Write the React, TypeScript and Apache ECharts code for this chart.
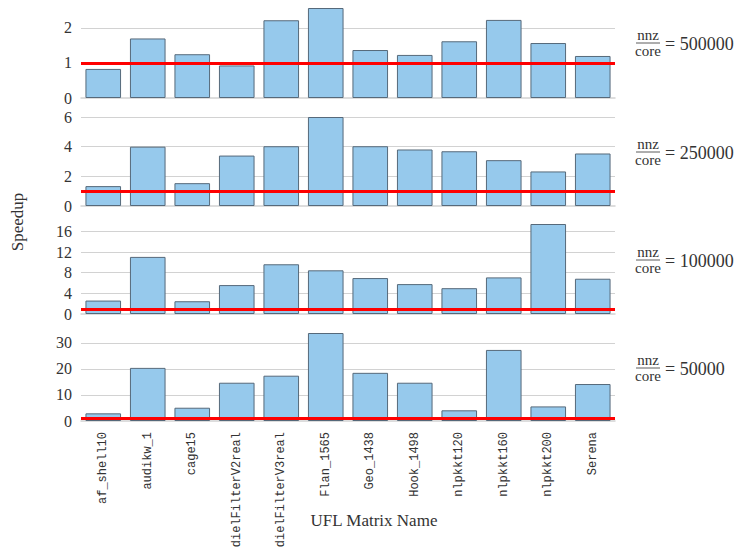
import React, { useEffect, useRef } from 'react';
import * as echarts from 'echarts';

const categories = [
  'af_shell10', 'audikw_1', 'cage15', 'dielFilterV2real', 'dielFilterV3real',
  'Flan_1565', 'Geo_1438', 'Hook_1498', 'nlpkkt120', 'nlpkkt160', 'nlpkkt200', 'Serena',
];

const speedup500000 = [0.83, 1.7, 1.25, 0.93, 2.22, 2.57, 1.37, 1.23, 1.62, 2.23, 1.57, 1.2];
const speedup250000 = [1.34, 4.0, 1.54, 3.4, 4.03, 6.0, 4.03, 3.81, 3.69, 3.09, 2.33, 3.54];
const speedup100000 = [2.6, 11.06, 2.47, 5.6, 9.63, 8.46, 6.96, 5.79, 5.0, 7.09, 17.43, 6.83];
const speedup50000 = [2.94, 20.4, 5.1, 14.7, 17.4, 33.8, 18.5, 14.7, 4.1, 27.3, 5.6, 14.2];

const panelSeries = [speedup500000, speedup250000, speedup100000, speedup50000];
const nnzPerCore = ['500000', '250000', '100000', '50000'];
const yIntervals = [1, 2, 4, 10];
const baselineSpeedup = 1;

const xAxisTitle = 'UFL Matrix Name';
const yAxisTitle = 'Speedup';

export default function App() {
  const ref = useRef<HTMLDivElement>(null);

  useEffect(() => {
    if (!ref.current) return;
    const chart = echarts.init(ref.current, null, { renderer: 'svg' });

    const tops = [8, 117, 224, 333];
    const heights = [90, 89, 90, 88];
    const labelCenters = [43, 152, 260, 368];
    const serif = '"Liberation Serif", "DejaVu Serif", serif';
    const mono = '"Liberation Mono", "DejaVu Sans Mono", monospace';
    const textColor = '#333';
    const gridColor = '#d2d2d2';

    const grid = tops.map((t, i) => ({ left: 81, right: 132, top: t, height: heights[i] }));

    const xAxis = panelSeries.map((_, i) => ({
      type: 'category',
      gridIndex: i,
      data: categories,
      axisLine: { show: true, lineStyle: { color: gridColor, width: 1.5 } },
      axisTick: { show: false },
      axisLabel: i === 3
        ? { show: true, rotate: 90, margin: 11, fontFamily: mono, fontSize: 12, color: textColor }
        : { show: false },
      splitLine: { show: false },
    }));

    const yAxis = panelSeries.map((vals, i) => {
      const maxV = Math.max(...vals);
      const onTick = Math.abs(maxV / yIntervals[i] - Math.round(maxV / yIntervals[i])) < 1e-9;
      return {
        type: 'value',
        gridIndex: i,
        min: 0,
        max: 'dataMax',
        interval: yIntervals[i],
        axisLine: { show: false },
        axisTick: { show: false },
        axisLabel: {
          show: true,
          margin: 9,
          fontFamily: serif,
          fontSize: 16,
          color: textColor,
          showMaxLabel: onTick,
        },
        splitLine: {
          show: true,
          showMinLine: false,
          showMaxLine: onTick,
          lineStyle: { color: gridColor, width: 1.2 },
        },
      };
    });

    const series = panelSeries.map((vals, i) => ({
      type: 'bar',
      xAxisIndex: i,
      yAxisIndex: i,
      data: vals,
      barCategoryGap: '20%',
      itemStyle: { color: '#96c9ec', borderColor: '#56697a', borderWidth: 1 },
      markLine: {
        silent: true,
        symbol: 'none',
        label: { show: false },
        lineStyle: { color: '#ff0000', width: 3, type: 'solid' },
        data: [{ yAxis: baselineSpeedup }],
      },
    }));

    const graphic: any[] = [
      {
        type: 'text',
        x: 374,
        y: 520,
        style: {
          text: xAxisTitle,
          fontFamily: serif,
          fontSize: 17,
          fill: textColor,
          align: 'center',
          verticalAlign: 'middle',
        },
      },
      {
        type: 'text',
        x: 17,
        y: 222,
        rotation: Math.PI / 2,
        style: {
          text: yAxisTitle,
          fontFamily: serif,
          fontSize: 17,
          fill: textColor,
          align: 'center',
          verticalAlign: 'middle',
        },
      },
    ];

    nnzPerCore.forEach((val, i) => {
      const c = labelCenters[i];
      graphic.push({
        type: 'group',
        children: [
          {
            type: 'text',
            x: 648,
            y: c - 0.5,
            style: { text: 'nnz', fontFamily: serif, fontSize: 15, fill: textColor, align: 'center', verticalAlign: 'bottom' },
          },
          {
            type: 'line',
            shape: { x1: 636, y1: c, x2: 660, y2: c },
            style: { stroke: textColor, lineWidth: 0.8 },
          },
          {
            type: 'text',
            x: 648,
            y: c + 0.5,
            style: { text: 'core', fontFamily: serif, fontSize: 15, fill: textColor, align: 'center', verticalAlign: 'top' },
          },
          {
            type: 'text',
            x: 665,
            y: c + 1,
            style: { text: '= ' + val, fontFamily: serif, fontSize: 18, fill: textColor, align: 'left', verticalAlign: 'middle' },
          },
        ],
      });
    });

    chart.setOption({
      animation: false,
      backgroundColor: '#ffffff',
      grid,
      xAxis,
      yAxis,
      series,
      graphic,
    } as any);

    return () => chart.dispose();
  }, []);

  return (
    <div
      ref={ref}
      style={{ position: 'fixed', left: 0, top: 0, width: 747, height: 557 }}
    />
  );
}
